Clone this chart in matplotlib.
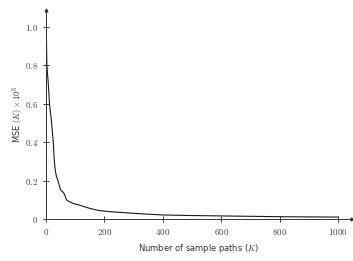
import matplotlib
matplotlib.use("Agg")
import matplotlib.pyplot as plt

# number of sample paths K and the MSE (x 10^3)
paths = [1, 3, 8, 12, 18, 22, 25, 28, 32, 36, 43, 48, 51, 58, 63, 70, 80,
         95, 113, 135, 158, 183, 220, 286, 350, 400, 500, 600, 700, 800, 900, 1000]
mse = [1.0, 0.8, 0.7, 0.6, 0.52, 0.45, 0.4, 0.31, 0.25, 0.22, 0.19, 0.16,
       0.15, 0.14, 0.13, 0.10, 0.09, 0.08, 0.073, 0.062, 0.052, 0.044, 0.038,
       0.031, 0.025, 0.021, 0.018, 0.016, 0.014, 0.012, 0.011, 0.010]

x_ticks = [0, 200, 400, 600, 800, 1000]
x_labels = ["0", "200", "400", "600", "800", "1000"]
y_ticks = [0, 0.2, 0.4, 0.6, 0.8, 1.0]
y_labels = ["0", "0.2", "0.4", "0.6", "0.8", "1.0"]

plt.rcParams["mathtext.fontset"] = "cm"
axis_col = "#333333"

fig = plt.figure(figsize=(3.53, 2.61), dpi=100)
ax = fig.add_axes([46 / 353, 42 / 261, 306 / 353, 209 / 261])

ax.plot(paths, mse, color="#1a1a1a", linewidth=0.8)

ax.set_xlim(0, 1000 * 306 / 292)
ax.set_ylim(0, 209 / 192)

for side in ["top", "right"]:
    ax.spines[side].set_visible(False)
for side in ["left", "bottom"]:
    ax.spines[side].set_color(axis_col)
    ax.spines[side].set_linewidth(0.7)

# arrow heads at the ends of the axes
ax.plot(1, 0, ">", color=axis_col, markersize=2, transform=ax.transAxes, clip_on=False)
ax.plot(0, 1, "^", color=axis_col, markersize=2, transform=ax.transAxes, clip_on=False)

ax.set_xticks(x_ticks)
ax.set_xticklabels(["$\\mathrm{%s}$" % s for s in x_labels])
ax.set_yticks(y_ticks)
ax.set_yticklabels(["$\\mathrm{%s}$" % s for s in y_labels])
ax.tick_params(direction="inout", length=5, width=0.7, color=axis_col,
               labelsize=6.5, labelcolor="#444444", pad=3)

ax.set_xlabel("Number of sample paths ($K$)", fontsize=6, color="#333333", labelpad=4)
ax.set_ylabel("MSE $(K)\\times10^3$", fontsize=6, color="#333333", labelpad=0)

plt.savefig("out.png", dpi=100)
plt.close()
